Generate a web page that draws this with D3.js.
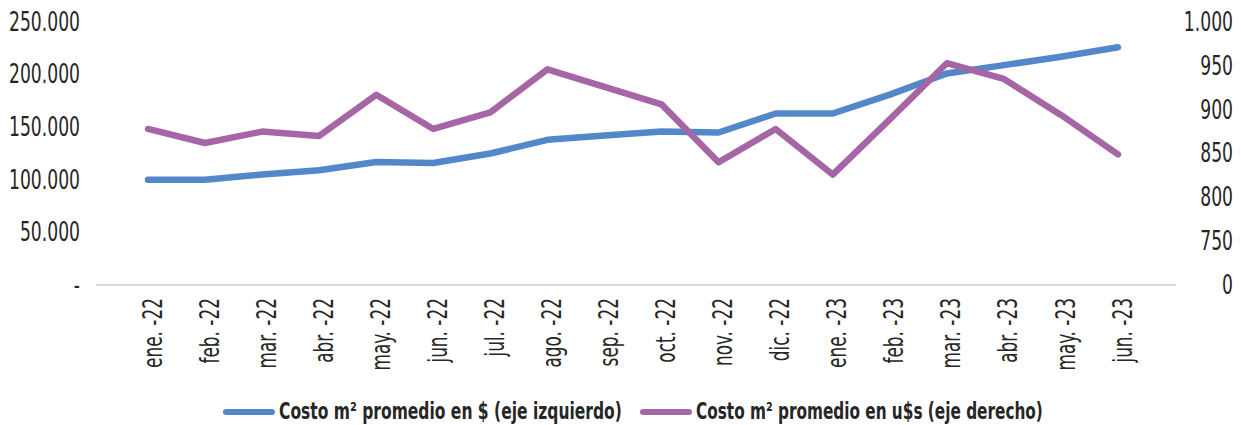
<!DOCTYPE html>
<html>
<head>
<meta charset="utf-8">
<script src="https://cdn.jsdelivr.net/npm/d3@7"></script>
<style>
  body { margin: 0; background: #fff; }
  svg text { font-family: "Liberation Sans Narrow", "DejaVu Sans Condensed", "Arial Narrow", sans-serif; fill: #262626; }
</style>
</head>
<body>
<div id="chart"></div>
<script>
// data
const months = ["ene. -22", "feb. -22", "mar. -22", "abr. -22", "may. -22", "jun. -22",
  "jul. -22", "ago. -22", "sep. -22", "oct. -22", "nov. -22", "dic. -22",
  "ene. -23", "feb. -23", "mar. -23", "abr. -23", "may. -23", "jun. -23"];
const costPesos = [100000, 100000, 105000, 109000, 117000, 116000, 125000, 138000, 142000,
  146000, 145000, 163000, 163000, 181000, 201000, 209000, 217000, 226000];
const costDollars = [878, 862, 875, 870, 917, 878, 897, 946, 926, 906, 840, 878, 826, 889, 953, 935, 894, 849];
const leftTicks = [0, 50000, 100000, 150000, 200000, 250000];
const rightTicks = [700, 750, 800, 850, 900, 950, 1000];
const rightTickLabels = ["0", "750", "800", "850", "900", "950", "1.000"];
const seriesNames = ["Costo m² promedio en $ (eje izquierdo)", "Costo m² promedio en u$s (eje derecho)"];

const width = 1241, height = 425;
const blue = "#5288C9", purple = "#A666A6";

const svg = d3.select("#chart")
  .append("svg")
  .attr("width", width)
  .attr("height", height);

// scales
const xScale = d3.scalePoint().domain(months).range([148, 1118]);
const yLeft = d3.scaleLinear().domain([0, 250000]).range([285, 22]);
const yRight = d3.scaleLinear().domain([700, 1000]).range([285, 22]);

const esLocale = d3.formatLocale({ decimal: ",", thousands: ".", grouping: [3], currency: ["$", ""] });
const fmt = esLocale.format(",.0f");

// axis line
svg.append("line")
  .attr("x1", 96).attr("x2", 1176)
  .attr("y1", yLeft(0)).attr("y2", yLeft(0))
  .attr("stroke", "#D9D9D9")
  .attr("stroke-width", 2);

// left axis
const leftAxis = svg.append("g")
  .attr("transform", "translate(80,0)")
  .call(d3.axisLeft(yLeft).tickValues(leftTicks).tickSize(0).tickPadding(0)
    .tickFormat(d => d === 0 ? "-" : fmt(d)));
leftAxis.select(".domain").remove();
const leftText = leftAxis.selectAll("text").attr("font-size", 26).attr("font-family", null);

// right axis
const rightAxis = svg.append("g")
  .attr("transform", "translate(1233,0)")
  .call(d3.axisLeft(yRight).tickValues(rightTicks).tickSize(0).tickPadding(0)
    .tickFormat((d, i) => rightTickLabels[i]));
rightAxis.select(".domain").remove();
const rightText = rightAxis.selectAll("text").attr("font-size", 26).attr("font-family", null);

// x labels
const xAxis = svg.append("g")
  .attr("transform", `translate(0, ${yLeft(0) + 13})`)
  .call(d3.axisBottom(xScale).tickSize(0).tickPadding(0));
xAxis.select(".domain").remove();
const xText = xAxis.selectAll("text")
  .attr("font-size", 26)
  .attr("font-family", null)
  .attr("text-anchor", "end")
  .attr("x", 0)
  .attr("y", 4)
  .attr("dy", "0.35em");

// condense the text horizontally (the original uses a condensed font)
const tickK = 71 / leftText.filter(d => d === 250000).node().getComputedTextLength();
leftText.attr("transform", `scale(${tickK},1)`);
rightText.attr("transform", `scale(${tickK},1)`);
const xK = 70 / xText.filter(d => d === "ene. -22").node().getComputedTextLength();
xText.attr("transform", `rotate(-90) scale(${xK},1)`);

// lines
const pesoLine = d3.line()
  .x((d, i) => xScale(months[i]))
  .y(d => yLeft(d));
const dollarLine = d3.line()
  .x((d, i) => xScale(months[i]))
  .y(d => yRight(d));

svg.append("path")
  .datum(costPesos)
  .attr("d", pesoLine)
  .attr("fill", "none")
  .attr("stroke", blue)
  .attr("stroke-width", 6.5)
  .attr("stroke-linejoin", "round")
  .attr("stroke-linecap", "round");

svg.append("path")
  .datum(costDollars)
  .attr("d", dollarLine)
  .attr("fill", "none")
  .attr("stroke", purple)
  .attr("stroke-width", 6.5)
  .attr("stroke-linejoin", "round")
  .attr("stroke-linecap", "round");

// legend
const legendY = 411;
const legendItems = [
  { name: seriesNames[0], color: blue, x1: 226, x2: 272, tx: 279, tw: 343 },
  { name: seriesNames[1], color: purple, x1: 643, x2: 689, tx: 696, tw: 347 }
];
const legend = svg.append("g");
legendItems.forEach(item => {
  legend.append("line")
    .attr("x1", item.x1).attr("x2", item.x2)
    .attr("y1", legendY + 1).attr("y2", legendY + 1)
    .attr("stroke", item.color)
    .attr("stroke-width", 6)
    .attr("stroke-linecap", "round");
  const label = legend.append("text")
    .attr("x", 0)
    .attr("y", 0)
    .attr("dy", "0.35em")
    .attr("font-size", 23)
    .attr("font-weight", "bold")
    .text(item.name);
  const k = item.tw / label.node().getComputedTextLength();
  label.attr("transform", `translate(${item.tx},${legendY}) scale(${k},1)`);
});
</script>
</body>
</html>
